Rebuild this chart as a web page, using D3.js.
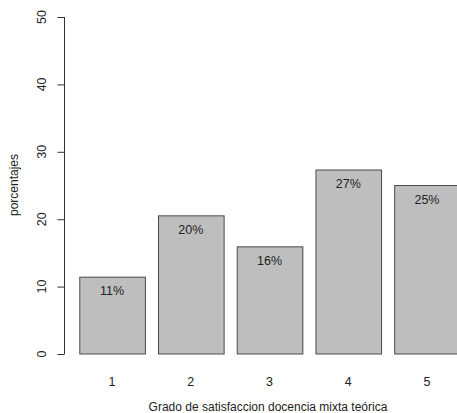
<!DOCTYPE html>
<html><head><meta charset="utf-8">
<script src="https://cdn.jsdelivr.net/npm/d3@7"></script>
<style>body{margin:0;background:#fff}svg{display:block}text{font-family:"Liberation Sans",Arial,sans-serif;fill:#222}</style>
</head><body>
<script>
const categories = ["1","2","3","4","5"];
const values = [11.4, 20.5, 15.9, 27.3, 25.0];
const barLabels = ["11%","20%","16%","27%","25%"];
const yTicks = [0,10,20,30,40,50];
const xTitle = "Grado de satisfaccion docencia mixta teórica";
const yTitle = "porcentajes";

const W = 457, H = 413;
const svg = d3.select("body").append("svg").attr("width", W).attr("height", H);

const y = d3.scaleLinear().domain([0, 50]).range([354, 17]);
// R barplot: width 1, space 0.2
const barW = 65.6;
const x = d3.scaleLinear().domain([0.2, 1.2]).range([79.3, 79.3 + barW]);

const g = svg.append("g");
g.selectAll("rect.bar").data(values).enter().append("rect")
  .attr("class", "bar")
  .attr("x", (d, i) => x(0.2 + i * 1.2) + 0.5)
  .attr("y", d => y(d))
  .attr("width", x(1) - x(0))
  .attr("height", d => y(0) - y(d))
  .attr("fill", "#bebebe")
  .attr("stroke", "#4a4a4a")
  .attr("stroke-width", 1);

g.selectAll("text.lab").data(values).enter().append("text")
  .attr("class", "lab")
  .attr("x", (d, i) => x(0.7 + i * 1.2))
  .attr("y", d => y(d) + 18)
  .attr("text-anchor", "middle")
  .attr("font-size", "12.5px")
  .text((d, i) => barLabels[i]);

// y axis
const yAxis = d3.axisLeft(y).tickValues(yTicks).tickSize(7).tickFormat(d3.format("d"));
const ya = svg.append("g").attr("transform", "translate(64.5,0)").call(yAxis);
ya.select(".domain").attr("stroke", "#333").attr("d", `M0,${y(0)}V${y(50)}`);
ya.selectAll(".tick line").attr("stroke", "#333");
ya.selectAll(".tick text").remove();
svg.selectAll("text.yt").data(yTicks).enter().append("text")
  .attr("class", "yt")
  .attr("transform", d => `translate(46,${y(d)}) rotate(-90)`)
  .attr("text-anchor", "middle")
  .attr("font-size", "12.5px")
  .text(d => d);

// x labels (no axis line)
svg.selectAll("text.xt").data(categories).enter().append("text")
  .attr("class", "xt")
  .attr("x", (d, i) => x(0.7 + i * 1.2))
  .attr("y", 382)
  .attr("dy", "0.35em")
  .attr("text-anchor", "middle")
  .attr("font-size", "12.5px")
  .text(d => d);

svg.append("text")
  .attr("x", 268).attr("y", 407).attr("dy", "0.35em")
  .attr("text-anchor", "middle").attr("font-size", "12px")
  .text(xTitle);

svg.append("text")
  .attr("transform", `translate(18,185) rotate(-90)`)
  .attr("text-anchor", "middle").attr("font-size", "12px")
  .text(yTitle);
</script>
</body></html>
